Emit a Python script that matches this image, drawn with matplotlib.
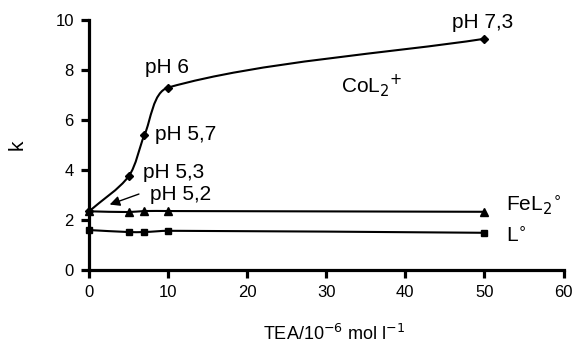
import numpy as np
import matplotlib
matplotlib.use("Agg")
import matplotlib.pyplot as plt
from matplotlib.path import Path
from matplotlib.patches import PathPatch

plt.rcParams['font.family'] = ['Liberation Sans', 'DejaVu Sans']

# Data
tea = [0, 5, 7, 10, 50]
k_col2 = [2.35, 3.75, 5.4, 7.3, 9.25]
k_fel2 = [2.35, 2.32, 2.36, 2.36, 2.33]
k_l = [1.6, 1.52, 1.52, 1.57, 1.49]
ph_labels = ["pH 5,3", "pH 5,7", "pH 6", "pH 7,3"]

fig = plt.figure(figsize=(5.75, 3.48), dpi=100)
ax = fig.add_axes([0.155, 0.224, 0.825, 0.7185])
ax.set_xlim(0, 60)
ax.set_ylim(0, 10)
ax.set_xticks(range(0, 61, 10))
ax.set_yticks(range(0, 11, 2))
for s in ['top', 'right']:
    ax.spines[s].set_visible(False)
for s in ['left', 'bottom']:
    ax.spines[s].set_linewidth(2.3)
ax.tick_params(width=2.3, length=6, labelsize=12, direction='out', pad=5)
ax.set_ylabel("k", fontsize=15)
ax.yaxis.set_label_coords(-0.131, 0.5)
ax.set_xlabel("TEA/10$^{-6}$ mol l$^{-1}$", fontsize=13, va='baseline')
ax.xaxis.set_label_coords(0.516, -0.28)

# scale factors (display px per data unit) for smoothing in screen space
W = fig.get_figwidth() * fig.dpi * 0.825
H = fig.get_figheight() * fig.dpi * 0.7185
sx, sy = W / 60.0, H / 10.0


def smooth_path(xs, ys, tension=0.3):
    P = np.column_stack([np.array(xs) * sx, np.array(ys) * sy])
    n = len(P)
    verts = [P[0]]
    codes = [Path.MOVETO]
    for i in range(n - 1):
        a, b = P[i], P[i + 1]
        seg = np.linalg.norm(b - a)
        pa = P[i - 1] if i > 0 else a
        pb = P[i + 2] if i + 2 < n else b
        da = b - pa
        da = da / np.linalg.norm(da)
        db = pb - a
        db = db / np.linalg.norm(db)
        c1 = a + da * tension * seg
        c2 = b - db * tension * seg
        verts += [c1, c2, b]
        codes += [Path.CURVE4] * 3
    verts = np.array(verts)
    verts[:, 0] /= sx
    verts[:, 1] /= sy
    return Path(verts, codes)


for ys in (k_col2, k_fel2, k_l):
    ax.add_patch(PathPatch(smooth_path(tea, ys), fill=False, lw=1.5,
                           ec='black', clip_on=False))

ax.plot(tea, k_col2, linestyle='none', marker='D', ms=4, color='black', clip_on=False)
ax.plot(tea, k_fel2, linestyle='none', marker='^', ms=6, color='black', clip_on=False)
ax.plot(tea, k_l, linestyle='none', marker='s', ms=5, color='black', clip_on=False)

fs = 15
kw = dict(fontsize=fs, va='baseline', ha='left')
ax.text(6.85, 3.68, ph_labels[0], **kw)
ax.text(8.35, 5.2, ph_labels[1], **kw)
ax.text(7.1, 7.87, ph_labels[2], **kw)
ax.text(45.9, 9.68, ph_labels[3], **kw)
ax.text(7.7, 2.8, "pH 5,2", **kw)
ax.annotate("", xy=(2.6, 2.62), xytext=(6.3, 3.04),
            arrowprops=dict(arrowstyle='-|>', color='black', lw=1.0,
                            mutation_scale=15, shrinkA=0, shrinkB=0))
ax.text(31.8, 7.12, "CoL$_2$$^{+}$", **kw)
ax.text(52.7, 2.37, "FeL$_2$$^{\\circ}$", **kw)
ax.text(52.7, 1.13, "L$^{\\circ}$", **kw)

fig.savefig("out.png", dpi=100)
